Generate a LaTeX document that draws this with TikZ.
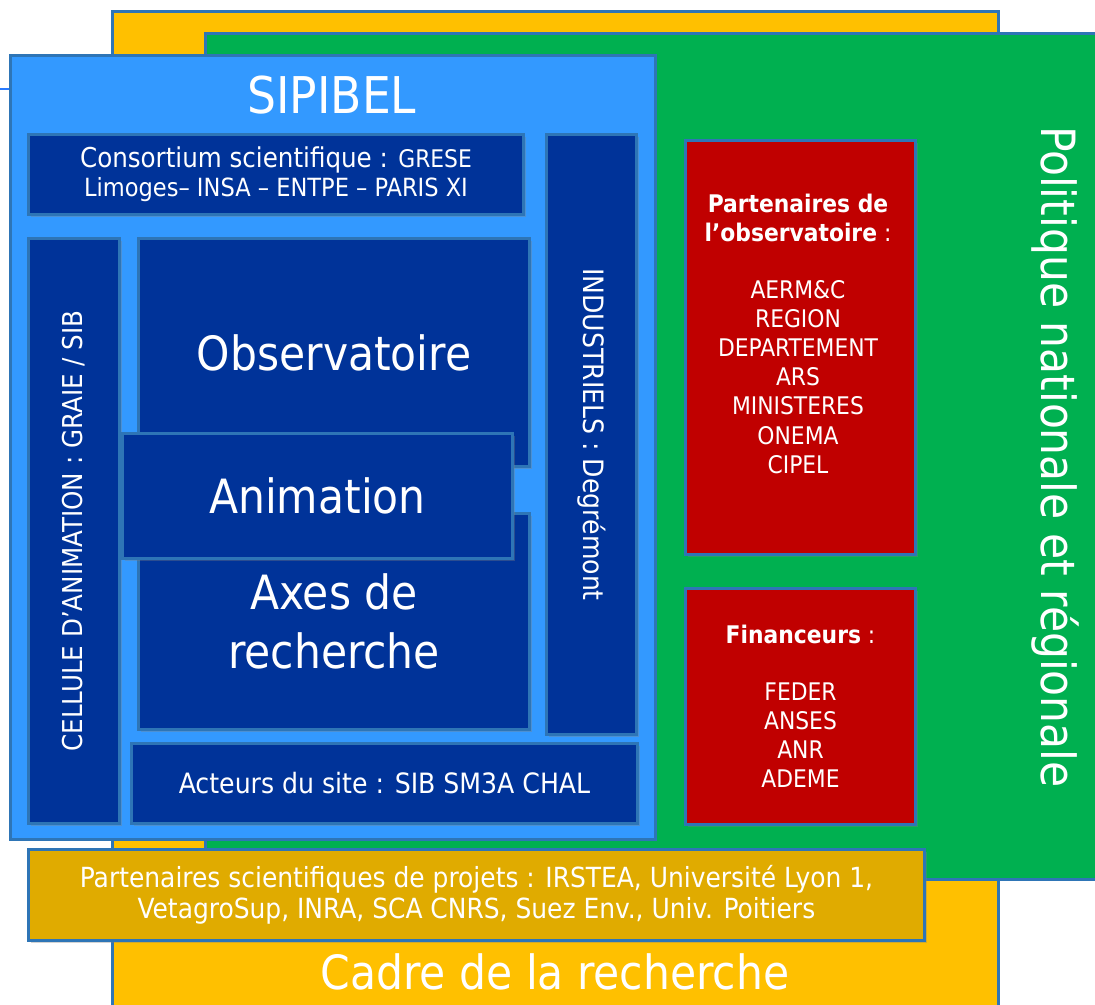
\documentclass[tikz,border=0pt]{standalone}
\usepackage{fontspec}
\setmainfont{DejaVu Sans Condensed}
\usetikzlibrary{shadows}
\definecolor{cadre}{HTML}{FFC000}
\definecolor{politique}{HTML}{00B050}
\definecolor{sipibel}{HTML}{3399FF}
\definecolor{navy}{HTML}{003399}
\definecolor{rouge}{HTML}{C00000}
\definecolor{dore}{HTML}{E0AB00}
\definecolor{liseret}{HTML}{2E75B6}
\newlength\pxu
\setlength\pxu{0.75pt}

\begin{document}
\begin{tikzpicture}[x=0.75pt, y=-0.75pt,
  wh/.style 2 args={minimum width=#1\pxu, minimum height=#2\pxu},
  frame/.style={draw=liseret, line width=3\pxu, anchor=north west, inner sep=0pt},
  box/.style={frame, text=white, align=center,
    drop shadow={shadow xshift=2.5\pxu, shadow yshift=-2.5\pxu, opacity=0.35}},
  darkbox/.style={box, fill=navy},
  redbox/.style={box, fill=rouge},
  lbl/.style={text=white, align=center, inner sep=0pt},
  huge/.style={font=\fontsize{35.4}{44}\selectfont},
  mid/.style={font=\fontsize{20.8}{23.2}\selectfont},
  small/.style={font=\fontsize{18.2}{21.9}\selectfont}]
  \useasboundingbox (0,0) rectangle (1095,1004);
  \clip (0,0) rectangle (1095,1004);
  % outer frames
  \node[frame, fill=cadre, wh={886}{1020}] (cadre) at (111,10) {};
  \node[frame, fill=politique, wh={910}{846}] (politique) at (204,32) {};
  \draw[sipibel!80!blue, line width=2.5\pxu] (0,89) -- (10,89);
  \node[frame, fill=sipibel, wh={645}{784}] (sipibel) at (9,54) {};
  \node[lbl, font=\fontsize{38}{44}\selectfont] (titre) at (332,95) {SIPIBEL};
  % boxes inside SIPIBEL
  \node[darkbox, wh={495}{80}] (consortium) at (27,133)
    {\fontsize{20.5}{23}\selectfont Consortium scientifique : {\fontsize{18.2}{20}\selectfont GRESE}\\[3\pxu]
     \fontsize{18.8}{22.5}\selectfont Limoges– INSA – ENTPE – PARIS XI};
  \node[darkbox, wh={90}{600}] (industriels) at (545,133) {};
  \node[lbl, rotate=-90, font=\fontsize{21}{24}\selectfont] (indtxt) at (industriels.center) {INDUSTRIELS : Degrémont};
  \node[darkbox, wh={91}{585}] (cellule) at (27,237) {};
  \node[lbl, rotate=90, font=\fontsize{20.5}{24}\selectfont] (celtxt) at (cellule.center) {CELLULE D’ANIMATION : GRAIE / SIB};
  \node[darkbox, huge, wh={391}{228}] (observatoire) at (137,237) {Observatoire};
  \node[darkbox, huge, wh={391}{216}] (axes) at (137,512) {Axes de\\recherche};
  \node[darkbox, huge, wh={390}{125}] (animation) at (121,432) {Animation};
  \node[darkbox, wh={506}{80}, font=\fontsize{21}{24}\selectfont] (acteurs) at (130,742) {Acteurs du site : SIB SM3A CHAL};
  % partners and funders
  \node[redbox, wh={230}{414}] (partobs) at (684,139) {};
  \node[lbl, small] (partxt) at (798,334)
    {\textbf{Partenaires de}\\ \textbf{l’observatoire} :\\[27\pxu]
     AERM\&C\\ REGION\\ DEPARTEMENT\\ ARS\\ MINISTERES\\ ONEMA\\ CIPEL};
  \node[redbox, small, wh={230}{236}] (financeurs) at (684,587)
    {\textbf{Financeurs} :\\[27\pxu] FEDER\\ ANSES\\ ANR\\ ADEME};
  \node[box, fill=dore, mid, wh={896}{91}] (partsci) at (27,848)
    {Partenaires scientifiques de projets : IRSTEA, Université Lyon 1,\\
     VetagroSup, INRA, SCA CNRS, Suez Env., Univ. Poitiers};
  % frame titles
  \node[lbl, huge] (cadretxt) at (555,972) {Cadre de la recherche};
  \node[lbl, huge, rotate=-90] (poltxt) at (1055,457) {Politique nationale et régionale};
\end{tikzpicture}
\end{document}
